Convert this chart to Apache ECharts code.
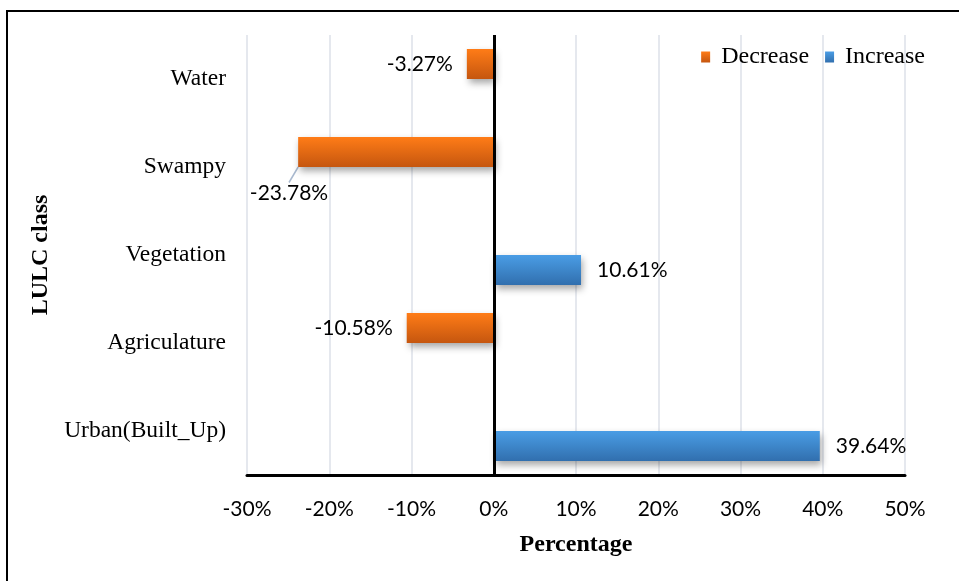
<!DOCTYPE html>
<html>
<head>
<meta charset="utf-8">
<script src="https://cdn.jsdelivr.net/npm/echarts@6/dist/echarts.min.js"></script>
<style>
  html, body { margin: 0; padding: 0; background: #ffffff; }
  #chart { width: 959px; height: 581px; }
</style>
</head>
<body>
<div id="chart"></div>
<script>
// LULC change by class, bottom-to-top order on the category axis
const categories = ['Urban(Built_Up)', 'Agriculature', 'Vegetation', 'Swampy', 'Water'];
const decreaseValues = ['-', -10.58, '-', -23.78, -3.27];
const increaseValues = [39.64, '-', 10.61, '-', '-'];
const xMin = -30;
const xMax = 50;
const xStep = 10;

const numFont = 'Lato, "Open Sans", sans-serif';
const serifFont = '"Liberation Serif", "DejaVu Serif", serif';

function grad(top, bottom) {
  return new echarts.graphic.LinearGradient(0, 0, 0, 1, [
    { offset: 0, color: top },
    { offset: 1, color: bottom }
  ]);
}
const orange = grad('#FF7C17', '#C5560F');
const blue = grad('#4A9DE5', '#316FAE');

// the Swampy label sits below the bar with a short guide line
const swampyIndex = categories.indexOf('Swampy');
const decreaseData = decreaseValues.map((v, i) => i === swampyIndex
  ? { value: v, labelLine: { show: true, lineStyle: { color: '#A9B9CF', width: 1.5 } } }
  : v);

const chart = echarts.init(document.getElementById('chart'), null, { renderer: 'canvas' });

const pct = p => p.value.toFixed(2) + '%';

chart.setOption({
  animation: false,
  backgroundColor: '#ffffff',
  graphic: [{
    type: 'rect',
    shape: { x: 7, y: 11, width: 1000, height: 1000 },
    style: { fill: 'none', stroke: '#000000', lineWidth: 2 },
    silent: true,
    z: 100
  }],
  legend: {
    right: 29,
    top: 40,
    icon: 'rect',
    itemWidth: 9,
    itemHeight: 11,
    itemGap: 16,
    textStyle: { fontFamily: serifFont, fontSize: 24, color: '#000', padding: [0, 0, 0, 6] },
    data: [
      { name: 'Decrease', itemStyle: { color: orange } },
      { name: 'Increase', itemStyle: { color: blue } }
    ]
  },
  grid: { left: 247, right: 54, top: 35, bottom: 106 },
  xAxis: {
    type: 'value',
    min: xMin,
    max: xMax,
    interval: xStep,
    name: 'Percentage',
    nameLocation: 'middle',
    nameGap: 58,
    nameTextStyle: { fontFamily: serifFont, fontSize: 24, fontWeight: 'bold', color: '#000' },
    axisLine: { show: true, onZero: false, lineStyle: { color: '#000', width: 3 } },
    axisTick: { show: false },
    axisLabel: {
      margin: 24,
      fontFamily: numFont,
      fontSize: 21,
      color: '#000',
      formatter: v => v + '%'
    },
    splitLine: { show: true, lineStyle: { color: '#DCE1E9', width: 1.5 } }
  },
  yAxis: {
    type: 'category',
    data: categories,
    name: 'LULC class',
    nameLocation: 'middle',
    nameRotate: 90,
    nameGap: 194,
    nameTextStyle: { fontFamily: serifFont, fontSize: 24, fontWeight: 'bold', color: '#000' },
    axisLine: { show: false },
    axisTick: { show: false },
    axisLabel: { margin: 21, fontFamily: serifFont, fontSize: 23.5, color: '#000' },
    splitLine: { show: false }
  },
  series: [
    {
      name: 'Decrease',
      type: 'bar',
      data: decreaseData,
      barWidth: 30,
      barGap: '0%',
      itemStyle: {
        color: orange,
        shadowColor: 'rgba(0,0,0,0.35)',
        shadowBlur: 7,
        shadowOffsetX: 2,
        shadowOffsetY: 4
      },
      label: {
        show: true,
        position: 'left',
        distance: 14,
        fontFamily: numFont,
        fontSize: 21,
        color: '#000',
        formatter: pct
      },
      labelLine: { show: false },
      labelLayout: function (params) {
        if (params.dataIndex === swampyIndex) {
          return { dx: 44, dy: 41 };
        }
        return {};
      },
      markLine: {
        silent: true,
        symbol: 'none',
        label: { show: false },
        lineStyle: { color: '#000', width: 3, type: 'solid' },
        data: [{ xAxis: 0 }],
        z: 10
      }
    },
    {
      name: 'Increase',
      type: 'bar',
      data: increaseValues,
      barWidth: 30,
      barGap: '0%',
      itemStyle: {
        color: blue,
        shadowColor: 'rgba(0,0,0,0.35)',
        shadowBlur: 7,
        shadowOffsetX: 2,
        shadowOffsetY: 4
      },
      label: {
        show: true,
        position: 'right',
        distance: 16,
        fontFamily: numFont,
        fontSize: 21,
        color: '#000',
        formatter: pct
      }
    }
  ]
});
</script>
</body>
</html>
